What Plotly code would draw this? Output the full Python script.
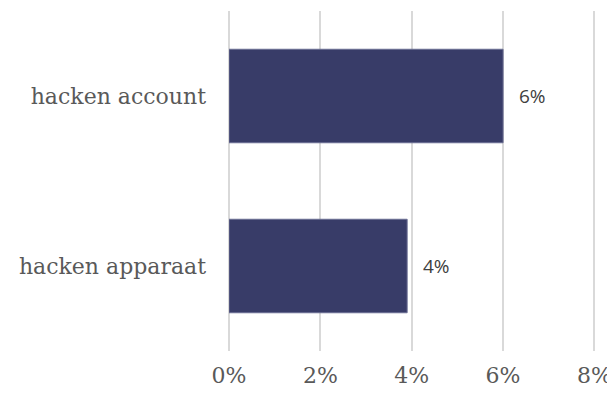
import plotly.graph_objects as go

# data
categories = ["hacken account", "hacken apparaat"]
values = [6.0, 3.9]
labels = ["6%", "4%"]
x_ticks = [0, 2, 4, 6, 8]
x_tick_text = ["0%", "2%", "4%", "6%", "8%"]

BAR_COLOR = "#383c68"
SERIF = "DejaVu Serif, Liberation Serif, serif"

fig = go.Figure(go.Bar(
    x=values,
    y=categories,
    orientation="h",
    width=0.55,
    marker=dict(color=BAR_COLOR, line=dict(color="#6a6d92", width=1)),
    hoverinfo="skip",
))

for v, c, t in zip(values, categories, labels):
    fig.add_annotation(
        x=v, y=c, text=t, showarrow=False,
        xanchor="left", xshift=14,
        font=dict(family="Open Sans, sans-serif", size=19, color="#404040"),
    )

# page body adds an 8px offset, so the figure is shrunk by that amount;
# range runs a bit past 8 so the last gridline is still drawn
fig.update_layout(
    width=607,
    height=386,
    plot_bgcolor="white",
    paper_bgcolor="white",
    showlegend=False,
    margin=dict(l=221, r=12, t=3, b=43),
    xaxis=dict(
        range=[0, 8.1],
        tickvals=x_ticks,
        ticktext=x_tick_text,
        ticklabeloverflow="allow",
        showgrid=True,
        gridcolor="#d9d9d9",
        gridwidth=1.5,
        zeroline=True,
        zerolinecolor="#d9d9d9",
        zerolinewidth=1.5,
        showline=False,
        ticks="",
        ticklabelstandoff=9,
        tickfont=dict(family=SERIF, size=22, color="#595959"),
    ),
    yaxis=dict(
        autorange="reversed",
        showgrid=False,
        zeroline=False,
        showline=False,
        ticks="",
        ticklabelstandoff=22,
        tickfont=dict(family=SERIF, size=22, color="#595959"),
    ),
)

fig.write_html("out.html")
